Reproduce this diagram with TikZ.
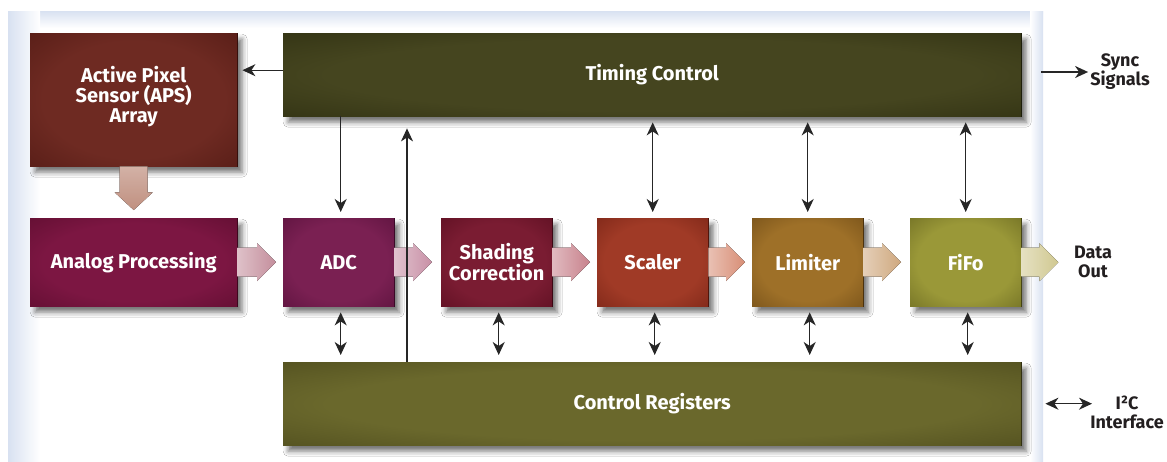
\documentclass[tikz,border=0pt]{standalone}
\usepackage{fontspec}
\setmainfont{Fira Sans}
\usetikzlibrary{calc,arrows.meta,shadows.blur}
\definecolor{panelb}{HTML}{D8E1F1}
\definecolor{apsIn}{HTML}{6E2A22}\definecolor{apsOut}{HTML}{45130E}
\definecolor{timIn}{HTML}{45451F}\definecolor{timOut}{HTML}{24250B}
\definecolor{anaIn}{HTML}{7C1642}\definecolor{anaOut}{HTML}{4E0926}
\definecolor{adcIn}{HTML}{7A2052}\definecolor{adcOut}{HTML}{4A0B32}
\definecolor{shaIn}{HTML}{7A1C32}\definecolor{shaOut}{HTML}{4C0818}
\definecolor{scaIn}{HTML}{A03A26}\definecolor{scaOut}{HTML}{661A0F}
\definecolor{limIn}{HTML}{9E7028}\definecolor{limOut}{HTML}{5E3E10}
\definecolor{fifIn}{HTML}{9A9838}\definecolor{fifOut}{HTML}{575618}
\definecolor{ctlIn}{HTML}{6A682C}\definecolor{ctlOut}{HTML}{403E16}
\definecolor{txtdark}{HTML}{231F20}
\definecolor{aA}{HTML}{C48E9C}\definecolor{aB}{HTML}{C890A6}
\definecolor{aC}{HTML}{C8828C}\definecolor{aD}{HTML}{D88E76}
\definecolor{aE}{HTML}{CFA87E}\definecolor{aF}{HTML}{D0C890}
\definecolor{aG}{HTML}{C09080}
\colorlet{bxin}{red}\colorlet{bxout}{black}
\pgfdeclareradialshading[bxin,bxout]{boxrad}{\pgfpoint{0bp}{0bp}}{%
  color(0bp)=(bxin); color(22bp)=(bxin); color(50bp)=(bxout); color(56bp)=(bxout)}
\newcommand\blockarr[3]{%
  \fill[left color=#3!55!white, right color=#3]
    ($#1+(0,-14.5)$) -- ($#2+(-19,-14.5)$) -- ($#2+(-19,-19)$) -- #2 --
    ($#2+(-19,19)$) -- ($#2+(-19,14.5)$) -- ($#1+(0,14.5)$) -- cycle;}
\tikzset{
  blk/.style={anchor=north west, draw=#1Out!70!black, line width=0.4pt,
    /utils/exec={\colorlet{bxin}{#1In}\colorlet{bxout}{#1Out}},
    fill=#1In, postaction={shade, shading=boxrad}, text=white,
    font=\fontsize{20}{20}\selectfont\bfseries, align=center,
    blur shadow={shadow xshift=5pt, shadow yshift=-6pt, shadow blur radius=5pt, shadow opacity=55}},
  lbl/.style={text=txtdark, font=\fontsize{18}{19}\selectfont\bfseries, align=center, inner sep=0pt},
  arr/.style={draw=black!85, line width=1.3pt, -{Stealth[length=13pt,width=12pt,inset=4pt]}},
  dbl/.style={draw=black!85, line width=1.3pt, {Stealth[length=13pt,width=12pt,inset=4pt]}-{Stealth[length=13pt,width=12pt,inset=4pt]}},
}
\begin{document}
\begin{tikzpicture}[x=1pt,y=-1pt]
\useasboundingbox (0,0) rectangle (1167,461);
% panel
\fill[white] (8,11) rectangle (1043,461);
\fill[top color=panelb, bottom color=white] (8,11) rectangle (1043,28);
\fill[left color=panelb, right color=white] (8,11) rectangle (40,461);
\fill[left color=white, right color=panelb] (1030,11) rectangle (1043,461);
% boxes
\node[blk=aps, minimum width=207pt, minimum height=133pt] (aps) at (30,33) {Active Pixel\\Sensor (APS)\\Array\\[-10pt]};
\node[blk=tim, minimum width=738pt, minimum height=83pt] (timing) at (283,33) {Timing Control};
\node[blk=ana, minimum width=207pt, minimum height=88pt] (analog) at (30,218) {Analog Processing};
\node[blk=adc, minimum width=111pt, minimum height=88pt] (adc) at (283,218) {ADC};
\node[blk=sha, minimum width=111pt, minimum height=88pt] (sha) at (441,218) {Shading\\Correction};
\node[blk=sca, minimum width=111pt, minimum height=88pt] (sca) at (597,218) {Scaler};
\node[blk=lim, minimum width=111pt, minimum height=88pt] (lim) at (752,218) {Limiter};
\node[blk=fif, minimum width=111pt, minimum height=88pt] (fifo) at (910,218) {FiFo};
\node[blk=ctl, minimum width=738pt, minimum height=83pt] (ctrl) at (283,362) {Control Registers};
% outside labels
\node[lbl] (sync) at (1120,72) {Sync\\Signals};
\node[lbl] (dout) at (1093,262) {Data\\Out};
\node[lbl] (i2c) at (1127,412) {I²C\\Interface};
% block arrows
\fill[top color=aG!70!white, bottom color=aG]
  ($(aps.south)+(-14,0)$) -- ($(aps.south)+(-14,26)$) -- ($(aps.south)+(-19,26)$) --
  ($(analog.north)+(0,-8)$) -- ($(aps.south)+(19,26)$) -- ($(aps.south)+(14,26)$) --
  ($(aps.south)+(14,0)$) -- cycle;
\blockarr{(analog.east)}{([xshift=-7pt]adc.west)}{aA}
\blockarr{(adc.east)}{([xshift=-9pt]sha.west)}{aB}
\blockarr{(sha.east)}{([xshift=-7pt]sca.west)}{aC}
\blockarr{(sca.east)}{([xshift=-7pt]lim.west)}{aD}
\blockarr{(lim.east)}{([xshift=-9pt]fifo.west)}{aE}
\coordinate (dtip) at ($(fifo.east)+(37,0)$);
\blockarr{(fifo.east)}{(dtip)}{aF}
% thin arrows
\draw[arr] ([yshift=4.5pt]timing.west) -- ([yshift=4.5pt,xshift=5pt]aps.east |- timing.west);
\draw[arr, shorten <=20pt, shorten >=2pt] (timing.east |- sync.west) -- (sync.west);
\draw[arr, shorten >=6pt] ([xshift=2pt]adc.north |- timing.south) -- ([xshift=2pt]adc.north);
\coordinate (upst) at ($(ctrl.north west)+(124,0)$);
\draw[arr, shorten >=12pt] (upst) -- (upst |- timing.south);
\foreach \b in {sca,lim,fifo}{
  \draw[dbl, shorten <=6pt, shorten >=6pt] (\b.north |- timing.south) -- (\b.north);
}
\foreach \b in {adc,sha,sca,lim,fifo}{
  \draw[dbl, shorten <=6pt, shorten >=7pt] ([xshift=2pt]\b.south) -- ([xshift=2pt]\b.south |- ctrl.north);
}
\coordinate (i2ctip) at (1092,0);
\draw[dbl, shorten <=24pt] (ctrl.east) -- (i2ctip |- ctrl.east);
\end{tikzpicture}
\end{document}
